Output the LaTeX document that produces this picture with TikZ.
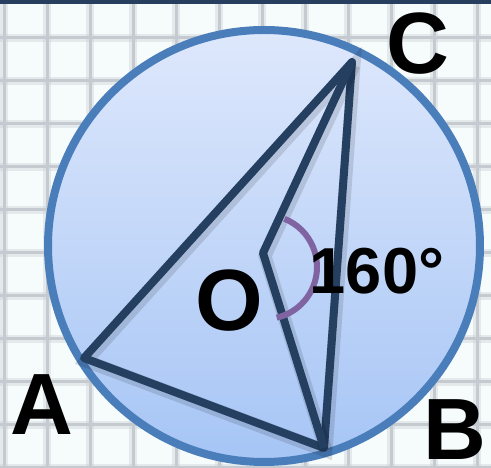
\documentclass[tikz,border=0pt]{standalone}
\usepackage{fontspec}
\setmainfont{Liberation Sans}
\usepackage{xcolor}
\usepackage{tikz}
\usetikzlibrary{positioning}

\definecolor{sidecol}{RGB}{36,63,96}
\definecolor{ringcol}{RGB}{74,126,187}
\definecolor{filltop}{RGB}{222,232,252}
\definecolor{fillbot}{RGB}{166,197,245}
\definecolor{arccol}{RGB}{128,100,162}
\definecolor{paper}{RGB}{246,251,251}
\definecolor{gridcol}{RGB}{196,202,207}
\definecolor{barcol}{RGB}{40,62,95}

\begin{document}
\begin{tikzpicture}[
  x=1pt, y=1pt,
  ring/.style={draw=ringcol, line width=8pt, top color=filltop, bottom color=fillbot},
  side/.style={draw=sidecol, line width=8pt, line join=round,
    preaction={draw=black, opacity=0.12, line width=13pt, transform canvas={shift={(2pt,-3pt)}}}},
  anglearc/.style={draw=arccol, line width=6pt},
  gridline/.style={draw=gridcol, line width=3pt,
    preaction={draw=gridcol, opacity=0.35, line width=8pt}},
  lbl/.style={inner sep=0pt, anchor=base, text depth=0pt, font=\bfseries\fontsize{87}{87}\selectfont},
  every node/.style={inner sep=2pt}
]
\useasboundingbox (0,0) rectangle (491,468);
\fill[paper] (0,0) rectangle (491,468);
\foreach \gx in {4,47,...,480} \draw[gridline] (\gx,0) -- (\gx,468);
\foreach \gy in {430,387,...,0} \draw[gridline] (0,\gy) -- (491,\gy);
\fill[barcol] (0,464) rectangle (491,468);

\coordinate (ctr) at (264,222);
\draw[ring] (ctr) circle[radius=216];

\coordinate (A) at (84,110);
\coordinate (B) at (324,20);
\coordinate (C) at (352,406);
\coordinate (O) at (263,215);
\coordinate (arcc) at (265,201);

\draw[side] (A) -- (B) -- (C) -- cycle;
\draw[side] (C) -- (O) -- (B);
\draw[anglearc] (arcc) ++(68:52) arc[start angle=68, end angle=-77, radius=52];

\node[lbl] (labC) at (418,394) {C};
\node[lbl] (labA) at (42,33) {A};
\node[lbl] (labB) at (455,8) {B};
\node[lbl] (labO) at (229,137) {O};
\node[lbl, font=\bfseries\fontsize{65}{65}\selectfont] (angle) at (377,174) {160°};
\end{tikzpicture}
\end{document}
